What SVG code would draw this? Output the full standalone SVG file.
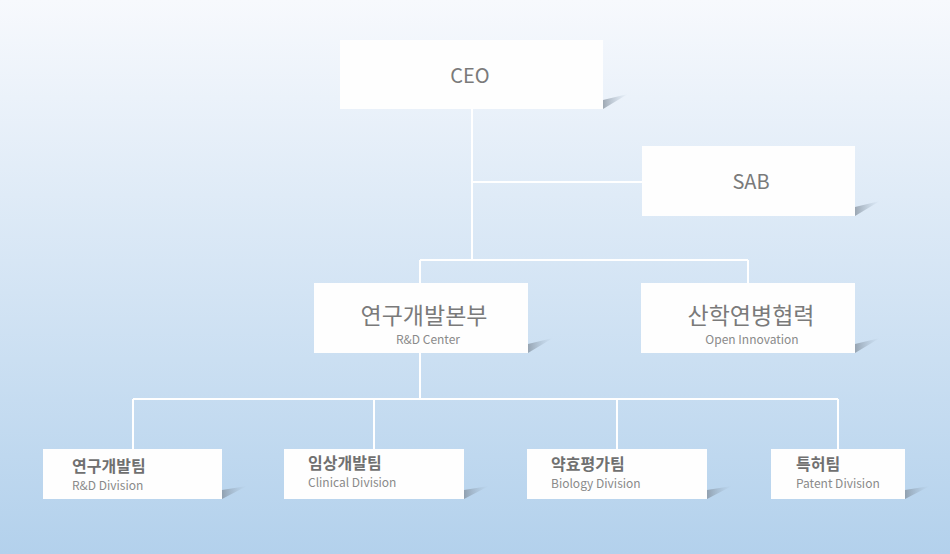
<svg xmlns="http://www.w3.org/2000/svg" width="950" height="554" viewBox="0 0 950 554">
<defs>
<linearGradient id="bg" x1="0" y1="0" x2="0" y2="1"><stop offset="0" stop-color="#f7f9fd"/><stop offset="1" stop-color="#b3d1ec"/></linearGradient>
<linearGradient id="sh" x1="0" y1="0" x2="1" y2="0"><stop offset="0" stop-color="#7f8a96" stop-opacity="0.7"/><stop offset="1" stop-color="#9fb4c8" stop-opacity="0"/></linearGradient>
<style>
.box{fill:#fefefe}
.sh{fill:url(#sh)}
.t{font-family:"Noto Sans CJK KR","Open Sans",sans-serif;fill:#7a7a7a}
.big{font-size:20px;text-anchor:middle}
.mid{font-size:23px;text-anchor:middle}
.sub{font-size:12px;fill:#8a8a8a}
.bt{font-size:16px;font-weight:bold;fill:#707070}
.c{stroke:#fff;stroke-width:2;fill:none}
</style>
</defs>
<rect width="950" height="554" fill="url(#bg)"/>
<g id="connectors">
<path class="c" d="M472 109V260M472 182H642M420 260H748M420 260V283M748 260V283M420 353V399M133 399H838M133 399V449M374 399V449M617 399V449M838 399V449"/>
</g>
<g id="ceo"><polygon class="sh" points="603,100 628,94 603,109"/><rect class="box" x="340" y="40" width="263" height="69"/><text class="t big" x="470" y="83">CEO</text></g>
<g id="sab"><polygon class="sh" points="855,207 880,201 855,216"/><rect class="box" x="642" y="146" width="213" height="70"/><text class="t big" x="751" y="189">SAB</text></g>
<g id="rnd-center"><polygon class="sh" points="528,344 553,338 528,353"/><rect class="box" x="314" y="283" width="214" height="70"/><text class="t mid" x="424" y="324">연구개발본부</text><text class="t sub" x="428" y="344" text-anchor="middle">R&amp;D Center</text></g>
<g id="open-innovation"><polygon class="sh" points="855,344 880,338 855,353"/><rect class="box" x="641" y="283" width="214" height="70"/><text class="t mid" x="751" y="324">산학연병협력</text><text class="t sub" x="752" y="344" text-anchor="middle">Open Innovation</text></g>
<g id="rnd-div"><polygon class="sh" points="222,490 247,486 222,499"/><rect class="box" x="43" y="449" width="179" height="50"/><text class="t bt" x="72" y="472">연구개발팀</text><text class="t sub" x="72" y="490">R&amp;D Division</text></g>
<g id="clinical"><polygon class="sh" points="464,490 489,486 464,499"/><rect class="box" x="284" y="449" width="180" height="50"/><text class="t bt" x="308" y="469">임상개발팀</text><text class="t sub" x="308" y="487">Clinical Division</text></g>
<g id="biology"><polygon class="sh" points="707,490 732,486 707,499"/><rect class="box" x="527" y="449" width="180" height="50"/><text class="t bt" x="551" y="470">약효평가팀</text><text class="t sub" x="551" y="488">Biology Division</text></g>
<g id="patent"><polygon class="sh" points="905,490 930,486 905,499"/><rect class="box" x="771" y="449" width="134" height="50"/><text class="t bt" x="796" y="470">특허팀</text><text class="t sub" x="796" y="488">Patent Division</text></g>
</svg>
